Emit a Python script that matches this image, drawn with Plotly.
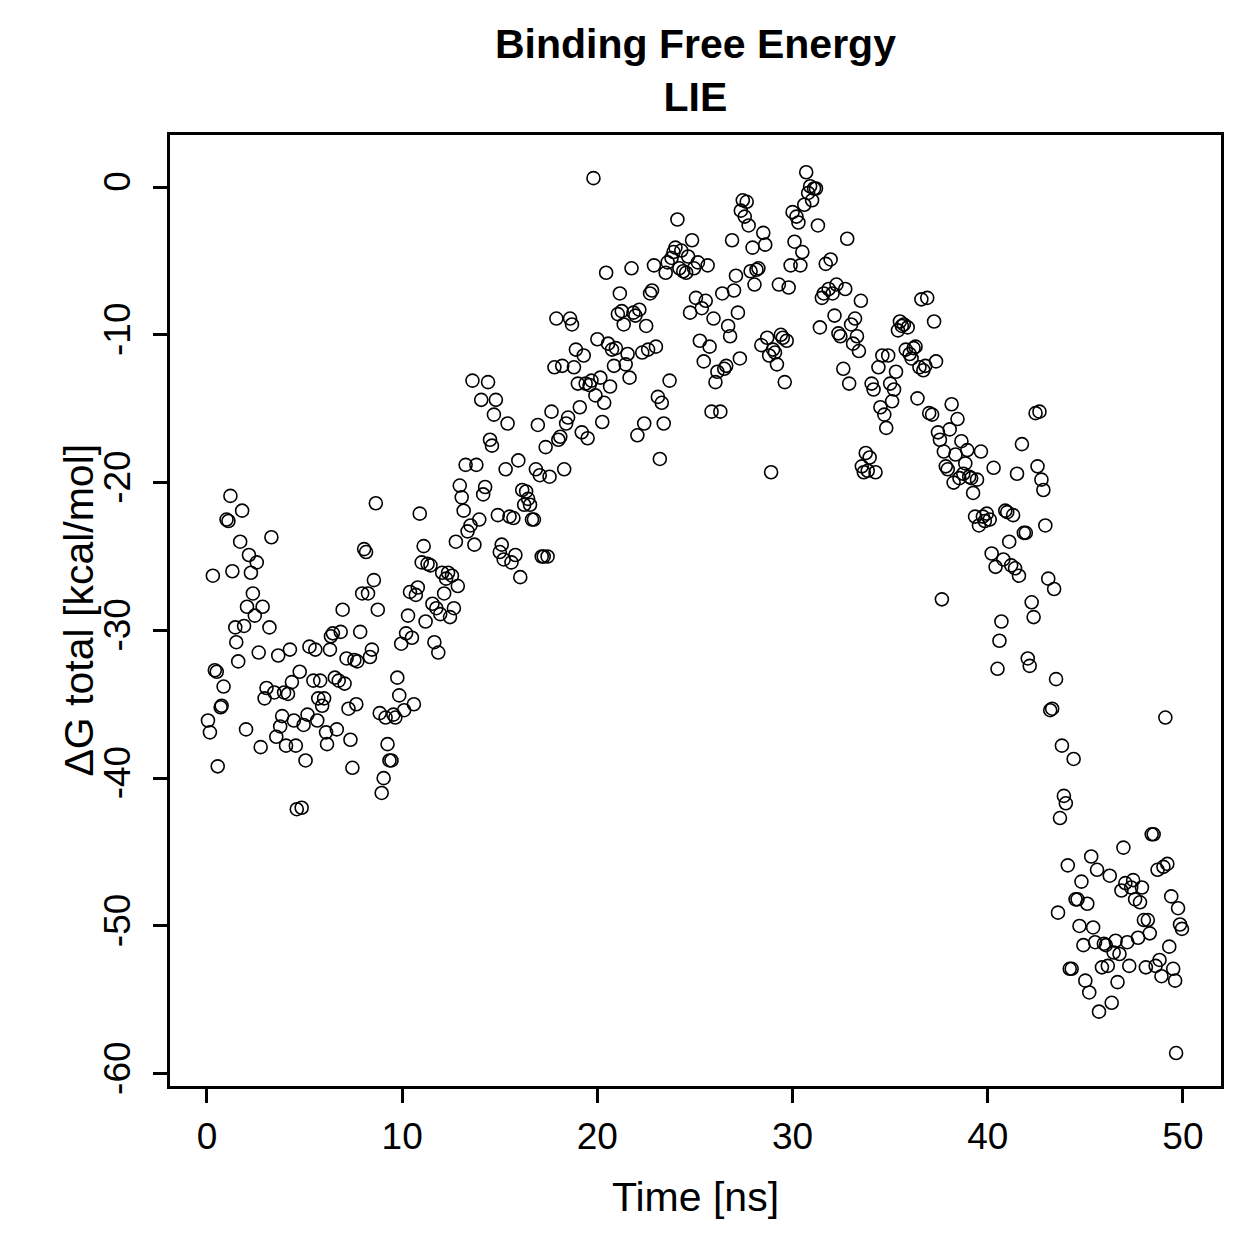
import plotly.graph_objects as go

time_ns = [0.05,0.15,0.3,0.4,0.5,0.55,0.7,0.75,0.85,1.0,1.1,1.2,1.3,1.45,1.5,1.6,1.7,1.8,1.9,2.0,
2.05,2.15,2.25,2.35,2.45,2.55,2.65,2.75,2.85,2.95,3.05,3.2,3.3,3.45,3.55,3.65,3.75,3.85,3.95,4.05,
4.15,4.25,4.35,4.45,4.55,4.6,4.75,4.85,4.95,5.05,5.15,5.25,5.45,5.55,5.65,5.7,5.8,5.9,6.0,6.1,
6.15,6.3,6.35,6.45,6.55,6.65,6.75,6.85,6.95,7.05,7.15,7.25,7.35,7.45,7.55,7.65,7.7,7.85,7.95,8.05,
8.15,8.25,8.35,8.45,8.55,8.65,8.75,8.85,8.95,9.05,9.15,9.25,9.35,9.45,9.55,9.65,9.75,9.85,9.95,10.1,
10.2,10.3,10.4,10.5,10.6,10.7,10.8,10.9,11.0,11.1,11.2,11.3,11.45,11.55,11.65,11.75,11.85,11.95,12.05,12.15,
12.25,12.35,12.45,12.55,12.65,12.75,12.85,12.95,13.05,13.15,13.25,13.35,13.5,13.6,13.7,13.8,13.95,14.05,14.15,14.25,
14.4,14.5,14.6,14.7,14.8,14.9,15.0,15.1,15.2,15.3,15.4,15.5,15.6,15.7,15.8,15.95,16.05,16.15,16.25,16.35,
16.45,16.55,16.65,16.75,16.85,16.95,17.05,17.15,17.25,17.35,17.45,17.55,17.65,17.8,17.9,18.0,18.1,18.2,18.3,18.4,
18.5,18.6,18.7,18.8,18.9,19.0,19.1,19.2,19.3,19.4,19.5,19.6,19.7,19.8,19.9,20.0,20.15,20.25,20.35,20.45,
20.55,20.65,20.75,20.85,20.95,21.05,21.15,21.25,21.35,21.45,21.55,21.65,21.75,21.85,21.95,22.05,22.15,22.3,22.4,22.5,
22.6,22.7,22.8,22.9,23.0,23.1,23.2,23.3,23.4,23.5,23.6,23.7,23.8,23.9,24.0,24.1,24.2,24.3,24.4,24.55,
24.65,24.75,24.85,24.95,25.05,25.15,25.25,25.35,25.45,25.55,25.65,25.75,25.85,25.95,26.05,26.15,26.3,26.4,26.5,26.6,
26.7,26.8,26.9,27.0,27.1,27.2,27.3,27.35,27.45,27.55,27.65,27.75,27.85,27.95,28.05,28.15,28.25,28.4,28.5,28.6,
28.7,28.8,28.9,29.0,29.1,29.2,29.3,29.4,29.5,29.6,29.7,29.8,29.9,30.0,30.1,30.2,30.3,30.4,30.5,30.6,
30.7,30.8,30.9,31.0,31.1,31.2,31.3,31.4,31.5,31.6,31.7,31.85,31.95,32.05,32.15,32.25,32.35,32.45,32.6,32.7,
32.8,32.9,33.0,33.1,33.2,33.3,33.4,33.5,33.55,33.65,33.75,33.85,33.95,34.05,34.15,34.25,34.4,34.5,34.6,34.7,
34.8,34.9,35.0,35.1,35.2,35.3,35.4,35.5,35.6,35.7,35.8,35.9,36.0,36.1,36.2,36.3,36.4,36.5,36.6,36.7,
36.8,36.9,37.0,37.15,37.25,37.35,37.45,37.55,37.65,37.75,37.85,37.95,38.05,38.15,38.25,38.35,38.45,38.55,38.65,38.75,
38.85,38.95,39.05,39.15,39.25,39.35,39.45,39.55,39.65,39.75,39.85,39.95,40.1,40.2,40.3,40.4,40.5,40.6,40.7,40.8,
40.9,41.0,41.1,41.2,41.3,41.4,41.5,41.6,41.75,41.85,41.95,42.05,42.15,42.25,42.35,42.45,42.55,42.65,42.75,42.85,
42.95,43.1,43.2,43.3,43.4,43.5,43.6,43.7,43.8,43.9,44.0,44.1,44.2,44.3,44.4,44.5,44.6,44.7,44.8,44.9,
45.0,45.1,45.2,45.3,45.4,45.5,45.6,45.7,45.85,45.95,46.05,46.15,46.25,46.35,46.45,46.55,46.65,46.75,46.85,46.95,
47.05,47.15,47.25,47.35,47.45,47.55,47.7,47.8,47.9,48.0,48.1,48.2,48.3,48.4,48.5,48.6,48.7,48.8,48.9,49.0,
49.1,49.2,49.3,49.4,49.5,49.6,49.65,49.75,49.85,49.95]

dg_total = [-36.1,-36.9,-26.3,-32.7,-32.8,-39.2,-35.2,-35.1,-33.8,-22.5,-22.6,-20.9,-26.0,-29.8,-30.8,-32.1,-24.0,-21.9,-29.7,-36.7,
-28.4,-24.9,-26.1,-27.5,-29.0,-25.4,-31.5,-37.9,-28.4,-34.6,-33.9,-29.8,-23.7,-34.2,-37.2,-31.7,-36.5,-35.8,-34.2,-37.8,
-34.3,-31.3,-33.5,-36.1,-37.8,-42.1,-32.8,-42.0,-36.4,-38.8,-35.7,-31.1,-33.4,-31.3,-36.1,-34.6,-33.4,-35.1,-34.6,-36.9,
-37.7,-31.3,-30.4,-30.2,-33.2,-36.7,-33.4,-30.1,-28.6,-33.6,-31.9,-35.3,-37.4,-39.3,-32.0,-35.0,-32.1,-30.1,-27.5,-24.5,
-24.7,-27.5,-31.8,-31.3,-26.6,-21.4,-28.6,-35.6,-41.0,-40.0,-35.9,-37.7,-38.8,-38.8,-35.7,-35.9,-33.2,-34.4,-30.9,-35.4,
-30.2,-29.0,-27.4,-30.5,-35.0,-27.6,-27.1,-22.1,-25.4,-24.3,-29.4,-25.5,-25.6,-28.2,-30.8,-28.5,-31.5,-28.9,-26.1,-27.5,
-26.5,-26.1,-29.1,-26.3,-28.5,-24.0,-27.0,-20.2,-21.0,-21.9,-18.8,-23.3,-22.9,-13.1,-24.2,-18.8,-22.5,-14.4,-20.8,-20.3,
-13.2,-17.1,-17.5,-15.4,-14.4,-22.2,-24.7,-24.2,-25.2,-19.1,-16.0,-22.3,-25.4,-22.4,-24.9,-18.5,-26.4,-20.5,-21.5,-20.6,
-21.1,-21.5,-22.5,-22.5,-19.1,-16.1,-19.5,-25.0,-25.0,-17.6,-25.0,-19.6,-15.2,-12.2,-8.9,-17.1,-16.9,-12.1,-19.1,-16.0,
-15.6,-8.9,-9.3,-12.2,-11.0,-13.3,-14.9,-16.6,-11.4,-13.3,-17.0,-13.4,-13.1,0.6,-14.1,-10.3,-12.9,-15.9,-14.6,-5.8,
-10.6,-13.5,-11.0,-12.1,-10.9,-8.6,-7.2,-8.4,-9.3,-12.0,-11.3,-12.9,-5.5,-8.5,-8.7,-16.8,-8.3,-11.2,-16.0,-9.4,
-11.0,-7.2,-7.0,-5.3,-10.8,-14.2,-18.4,-14.6,-16.0,-5.8,-5.1,-13.1,-4.8,-4.4,-4.1,-2.2,-5.5,-4.3,-5.7,-5.8,
-4.7,-8.5,-3.6,-5.5,-7.5,-5.1,-10.4,-8.2,-11.8,-7.7,-5.3,-10.8,-15.2,-8.9,-13.2,-12.5,-15.2,-7.2,-12.3,-12.1,
-9.4,-10.1,-3.6,-7.0,-6.0,-8.5,-11.6,-1.6,-0.9,-2.0,-1.0,-2.6,-5.7,-4.1,-6.6,-5.6,-5.5,-10.7,-3.1,-3.9,
-10.2,-11.4,-19.3,-11.0,-11.2,-12.0,-6.6,-10.0,-10.2,-13.2,-10.4,-6.8,-5.3,-1.7,-3.7,-2.0,-2.4,-5.3,-4.4,-1.2,
1.0,-0.4,0.05,-0.9,-0.1,-0.1,-2.6,-9.5,-7.5,-7.2,-5.2,-6.9,-4.9,-7.2,-8.7,-6.6,-9.9,-10.1,-12.3,-6.9,
-3.5,-13.3,-9.3,-10.6,-8.9,-10.1,-11.1,-7.7,-18.9,-19.3,-18.0,-19.2,-18.3,-13.3,-13.7,-19.3,-12.2,-14.9,-11.4,-15.4,
-16.3,-11.4,-13.3,-14.5,-13.7,-12.5,-9.7,-9.1,-9.4,-9.3,-11.0,-9.5,-11.3,-11.6,-10.9,-10.8,-14.3,-12.2,-7.6,-12.4,
-12.1,-7.5,-15.3,-15.4,-9.1,-11.8,-16.6,-17.1,-27.9,-17.9,-18.9,-19.1,-16.4,-14.7,-20.0,-18.1,-15.7,-19.7,-17.2,-19.4,
-18.7,-17.8,-19.6,-19.7,-20.7,-22.3,-19.8,-22.9,-17.9,-22.3,-22.6,-22.1,-22.5,-24.8,-19.0,-25.7,-32.6,-30.7,-29.4,-25.2,
-21.9,-22.0,-24.0,-25.6,-22.2,-25.8,-19.4,-26.3,-17.4,-23.4,-23.4,-31.9,-32.4,-28.1,-29.1,-15.3,-18.9,-15.2,-19.8,-20.5,
-22.9,-26.5,-35.4,-35.3,-27.2,-33.3,-49.1,-42.7,-37.8,-41.2,-41.7,-45.9,-52.9,-52.9,-38.7,-48.2,-48.2,-50.0,-47.0,-51.3,
-53.7,-48.5,-54.5,-45.3,-50.1,-51.1,-46.2,-55.8,-52.8,-51.2,-51.3,-52.7,-46.6,-55.2,-51.8,-51.0,-53.8,-51.9,-47.6,-44.7,
-47.1,-51.1,-52.7,-47.4,-46.9,-48.2,-50.8,-48.4,-47.4,-49.6,-52.8,-49.6,-50.5,-43.8,-43.8,-52.7,-46.2,-52.3,-53.4,-46.0,
-35.9,-45.8,-51.4,-48.0,-52.9,-53.7,-58.6,-48.8,-49.9,-50.2]

x_ticks = [0, 10, 20, 30, 40, 50]
y_ticks = [-60, -50, -40, -30, -20, -10, 0]

font_family = "Liberation Sans, Arial, sans-serif"

fig = go.Figure()
fig.add_trace(go.Scatter(
    x=time_ns, y=dg_total, mode="markers",
    marker=dict(symbol="circle-open", size=13, color="black", line=dict(width=1.6, color="black")),
    showlegend=False, hoverinfo="x+y",
))

axis_common = dict(
    showline=True, linecolor="black", linewidth=3, mirror=True,
    ticks="outside", ticklen=14, tickwidth=2.5, tickcolor="black",
    showgrid=False, zeroline=False,
    tickfont=dict(family=font_family, size=37, color="black"),
)

fig.update_layout(
    width=1259, height=1259,
    paper_bgcolor="white", plot_bgcolor="white",
    margin=dict(l=170, r=38, t=135, b=173),
    font=dict(family=font_family, color="black"),
    xaxis=dict(
        range=[-1.895, 51.95], tickvals=x_ticks, ticktext=[str(v) for v in x_ticks],
        ticklabelstandoff=2,
        title=dict(text="Time [ns]", font=dict(family=font_family, size=41, color="black"), standoff=26),
        **axis_common,
    ),
    yaxis=dict(
        range=[-60.83, 3.52], tickvals=y_ticks, ticktext=[str(v) for v in y_ticks],
        tickangle=-90, ticklabelstandoff=8,
        **axis_common,
    ),
    annotations=[
        dict(text="<b>Binding Free Energy<br>LIE</b>", xref="paper", yref="paper",
             x=0.5, y=1.068, xanchor="center", yanchor="middle", showarrow=False,
             font=dict(family=font_family, size=41, color="black")),
        dict(text="ΔG total [kcal/mol]", xref="paper", yref="paper",
             x=-0.0875, y=0.5, xanchor="center", yanchor="middle", textangle=-90, showarrow=False,
             font=dict(family=font_family, size=41, color="black")),
    ],
)

fig.write_html("out.html")
